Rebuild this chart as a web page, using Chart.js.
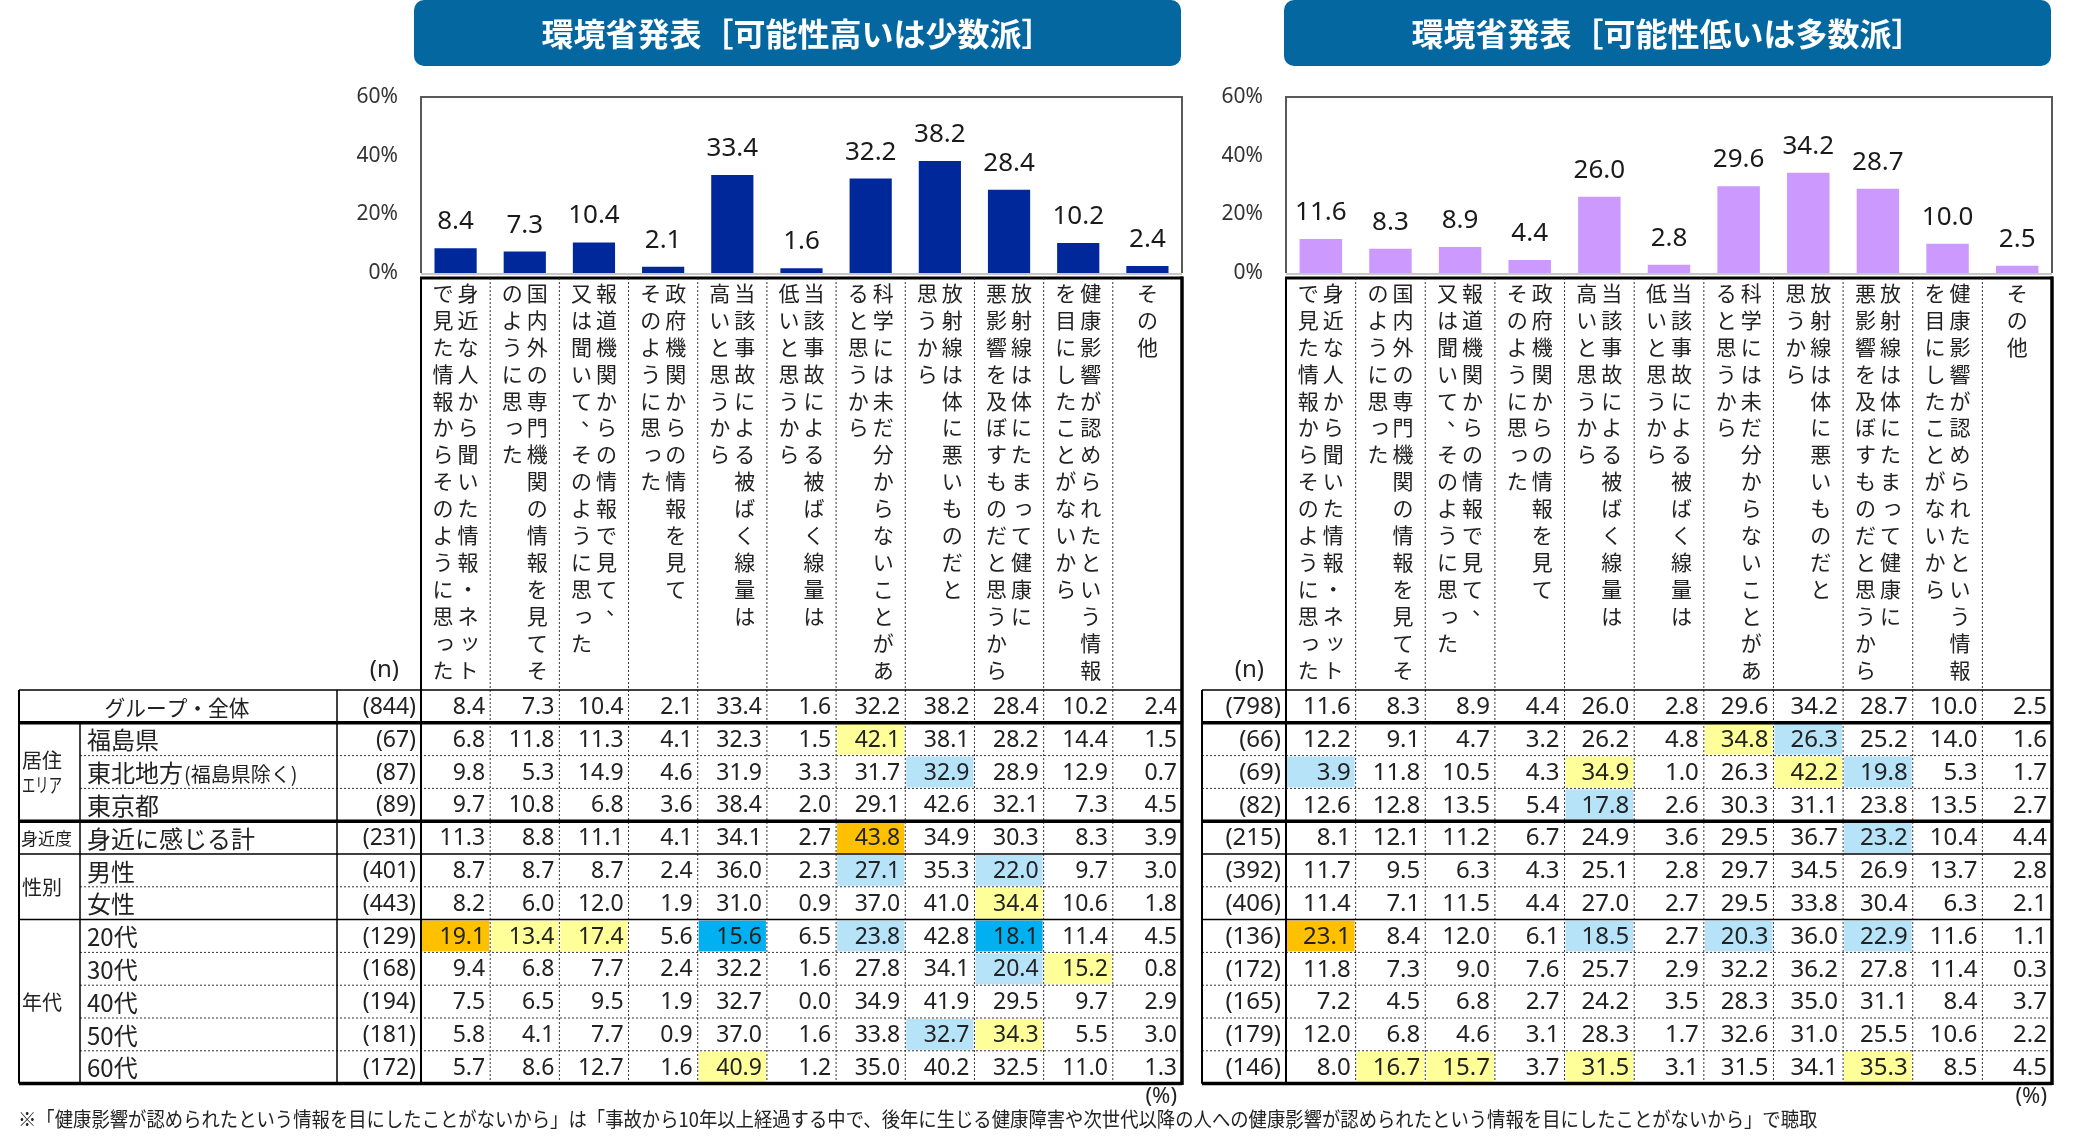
<!DOCTYPE html>
<html lang="ja">
<head>
<meta charset="utf-8">
<script src="https://cdn.jsdelivr.net/npm/chart.js@4.4.1/dist/chart.umd.min.js"></script>
<style>
  html, body { margin: 0; padding: 0; background: #fff; }
  #wrap { position: relative; width: 2080px; height: 1137px; overflow: hidden; }
  #cHigh { position: absolute; left: 0; top: 0; }
  #cLow { position: absolute; left: 1195px; top: 0; }
  #note { position: absolute; left: 18px; top: 1104px; font: 20px "Noto Sans CJK JP", sans-serif;
          color: #222; white-space: nowrap; transform-origin: 0 0; }
</style>
</head>
<body>
<div id="wrap">
  <canvas id="cHigh" width="1195" height="1137"></canvas>
  <canvas id="cLow" width="885" height="1137"></canvas>
  <div id="note">※「健康影響が認められたという情報を目にしたことがないから」は「事故から10年以上経過する中で、後年に生じる健康障害や次世代以降の人への健康影響が認められたという情報を目にしたことがないから」で聴取</div>
</div>
<script>
// 見出し
const titleHigh = '環境省発表［可能性高いは少数派］';
const titleLow = '環境省発表［可能性低いは多数派］';

// 理由（縦書き：右の列から左の列へ）
const reasonCols = [
  ['身近な人から聞いた情報・ネット', 'で見た情報からそのように思った'],
  ['国内外の専門機関の情報を見てそ', 'のように思った'],
  ['報道機関からの情報で見て、', '又は聞いて、そのように思った'],
  ['政府機関からの情報を見て', 'そのように思った'],
  ['当該事故による被ばく線量は', '高いと思うから'],
  ['当該事故による被ばく線量は', '低いと思うから'],
  ['科学には未だ分からないことがあ', 'ると思うから'],
  ['放射線は体に悪いものだと', '思うから'],
  ['放射線は体にたまって健康に', '悪影響を及ぼすものだと思うから'],
  ['健康影響が認められたという情報', 'を目にしたことがないから'],
  ['その他']
];
const categories = reasonCols.map(c => c.join(''));

const yTicks = [0, 20, 40, 60];

// 表の行
const rowLabels = ['グループ・全体', '福島県', '東北地方', '東京都', '身近に感じる計', '男性', '女性',
                   '20代', '30代', '40代', '50代', '60代'];
const rowSuffix = ['', '', '(福島県除く)', '', '', '', '', '', '', '', '', ''];
const groupNames = [
  { lines: ['居住', 'エリア'], from: 1, to: 3 },
  { lines: ['身近度'], from: 4, to: 4 },
  { lines: ['性別'], from: 5, to: 6 },
  { lines: ['年代'], from: 7, to: 11 }
];

const nHigh = [844, 67, 87, 89, 231, 401, 443, 129, 168, 194, 181, 172];
const nLow = [798, 66, 69, 82, 215, 392, 406, 136, 172, 165, 179, 146];

const tableHigh = [
  [8.4, 7.3, 10.4, 2.1, 33.4, 1.6, 32.2, 38.2, 28.4, 10.2, 2.4],
  [6.8, 11.8, 11.3, 4.1, 32.3, 1.5, 42.1, 38.1, 28.2, 14.4, 1.5],
  [9.8, 5.3, 14.9, 4.6, 31.9, 3.3, 31.7, 32.9, 28.9, 12.9, 0.7],
  [9.7, 10.8, 6.8, 3.6, 38.4, 2.0, 29.1, 42.6, 32.1, 7.3, 4.5],
  [11.3, 8.8, 11.1, 4.1, 34.1, 2.7, 43.8, 34.9, 30.3, 8.3, 3.9],
  [8.7, 8.7, 8.7, 2.4, 36.0, 2.3, 27.1, 35.3, 22.0, 9.7, 3.0],
  [8.2, 6.0, 12.0, 1.9, 31.0, 0.9, 37.0, 41.0, 34.4, 10.6, 1.8],
  [19.1, 13.4, 17.4, 5.6, 15.6, 6.5, 23.8, 42.8, 18.1, 11.4, 4.5],
  [9.4, 6.8, 7.7, 2.4, 32.2, 1.6, 27.8, 34.1, 20.4, 15.2, 0.8],
  [7.5, 6.5, 9.5, 1.9, 32.7, 0.0, 34.9, 41.9, 29.5, 9.7, 2.9],
  [5.8, 4.1, 7.7, 0.9, 37.0, 1.6, 33.8, 32.7, 34.3, 5.5, 3.0],
  [5.7, 8.6, 12.7, 1.6, 40.9, 1.2, 35.0, 40.2, 32.5, 11.0, 1.3]
];
const tableLow = [
  [11.6, 8.3, 8.9, 4.4, 26.0, 2.8, 29.6, 34.2, 28.7, 10.0, 2.5],
  [12.2, 9.1, 4.7, 3.2, 26.2, 4.8, 34.8, 26.3, 25.2, 14.0, 1.6],
  [3.9, 11.8, 10.5, 4.3, 34.9, 1.0, 26.3, 42.2, 19.8, 5.3, 1.7],
  [12.6, 12.8, 13.5, 5.4, 17.8, 2.6, 30.3, 31.1, 23.8, 13.5, 2.7],
  [8.1, 12.1, 11.2, 6.7, 24.9, 3.6, 29.5, 36.7, 23.2, 10.4, 4.4],
  [11.7, 9.5, 6.3, 4.3, 25.1, 2.8, 29.7, 34.5, 26.9, 13.7, 2.8],
  [11.4, 7.1, 11.5, 4.4, 27.0, 2.7, 29.5, 33.8, 30.4, 6.3, 2.1],
  [23.1, 8.4, 12.0, 6.1, 18.5, 2.7, 20.3, 36.0, 22.9, 11.6, 1.1],
  [11.8, 7.3, 9.0, 7.6, 25.7, 2.9, 32.2, 36.2, 27.8, 11.4, 0.3],
  [7.2, 4.5, 6.8, 2.7, 24.2, 3.5, 28.3, 35.0, 31.1, 8.4, 3.7],
  [12.0, 6.8, 4.6, 3.1, 28.3, 1.7, 32.6, 31.0, 25.5, 10.6, 2.2],
  [8.0, 16.7, 15.7, 3.7, 31.5, 3.1, 31.5, 34.1, 35.3, 8.5, 4.5]
];

// 全体との差（H:かなり高い h:高い l:低い L:かなり低い）
const marksHigh = [
  '...........',
  '......h....',
  '.......l...',
  '...........',
  '......H....',
  '......l.l..',
  '........h..',
  'Hhh.L.l.L..',
  '........lh.',
  '...........',
  '.......lh..',
  '....h......'
];
const marksLow = [
  '...........',
  '......hl...',
  'l...h..hl..',
  '....l......',
  '........l..',
  '...........',
  '...........',
  'H...l.l.l..',
  '...........',
  '...........',
  '...........',
  '.hh.h...h..'
];

const JP = '"Noto Sans CJK JP", sans-serif';
const NUM = '"Noto Sans", "Liberation Sans", sans-serif';
const markColors = { H: '#FFC000', h: '#FFFF99', l: '#B7E3F8', L: '#00B0F0' };

const HEAD_TOP = 278;
const CHAR_TOP = 293, CHAR_STEP = 26.9;
const TABLE_TOP = 690, ROW_H = 32.8;
// 行の下の罫線: solid / thick / dot
const rowRules = ['solid', 'thick', 'dot', 'dot', 'thick', 'solid', 'dot', 'solid', 'dot', 'dot', 'dot', 'dot', 'thick'];

function rule(ctx, x1, y1, x2, y2, w, dash) {
  ctx.save();
  ctx.beginPath();
  ctx.lineWidth = w;
  ctx.strokeStyle = dash ? '#333' : '#000';
  ctx.setLineDash(dash ? [2, 2] : []);
  ctx.moveTo(x1, y1);
  ctx.lineTo(x2, y2);
  ctx.stroke();
  ctx.restore();
}

function verticalText(ctx, str, cx) {
  [...str].forEach((ch, k) => {
    let dx = 0, dy = 0;
    if ('、。'.includes(ch)) { dx = 10; dy = -10; }
    else if ('っッ'.includes(ch)) { dx = 2; dy = -2; }
    ctx.fillText(ch, cx + dx, CHAR_TOP + k * CHAR_STEP + dy);
  });
}

const sheetPlugin = {
  id: 'sheet',
  afterDraw(chart, args, o) {
    const ctx = chart.ctx, a = chart.chartArea, x = chart.scales.x;
    const step = x.getPixelForValue(1) - x.getPixelForValue(0);
    const colL = i => x.getPixelForValue(i) - step / 2;
    const nLeft = a.left - 84;
    const tableLeft = o.withLabels ? 19 : nLeft;
    const bottom = TABLE_TOP + 12 * ROW_H;
    const rowY = r => TABLE_TOP + r * ROW_H;

    ctx.save();
    // 見出しの帯
    ctx.fillStyle = '#0567A0';
    ctx.beginPath();
    ctx.roundRect(o.header[0], 0, o.header[1] - o.header[0], 66, 10);
    ctx.fill();
    ctx.fillStyle = '#fff';
    ctx.font = 'bold 32px ' + JP;
    ctx.textAlign = 'center';
    ctx.textBaseline = 'middle';
    ctx.fillText(o.title, (o.header[0] + o.header[1]) / 2, 34);

    // グラフ枠
    ctx.strokeStyle = '#595959';
    ctx.lineWidth = 2;
    ctx.beginPath();
    ctx.moveTo(a.left, a.bottom);
    ctx.lineTo(a.left, a.top);
    ctx.lineTo(a.right, a.top);
    ctx.lineTo(a.right, a.bottom);
    ctx.stroke();
    ctx.strokeStyle = '#c8c8c8';
    ctx.beginPath();
    ctx.moveTo(a.left, a.bottom + 1);
    ctx.lineTo(a.right, a.bottom + 1);
    ctx.stroke();

    // 色付きセル
    o.marks.forEach((m, r) => {
      [...m].forEach((c, i) => {
        if (markColors[c]) {
          ctx.fillStyle = markColors[c];
          ctx.fillRect(colL(i) + 1, rowY(r) + 1, step - 2, ROW_H - 2);
        }
      });
    });

    // 罫線
    rule(ctx, a.left - 1, HEAD_TOP, a.right + 1, HEAD_TOP, 3);
    for (let k = 1; k < 11; k++) rule(ctx, colL(k), HEAD_TOP, colL(k), bottom, 1, true);
    rowRules.forEach((kind, b) => {
      const y = rowY(b);
      if (kind === 'dot') rule(ctx, o.withLabels ? 80 : tableLeft, y, a.right, y, 1, true);
      else rule(ctx, tableLeft, y, a.right, y, kind === 'thick' ? 3.5 : 1.5);
    });
    rule(ctx, a.left, HEAD_TOP, a.left, bottom, 2);
    rule(ctx, a.right, HEAD_TOP - 1.5, a.right, bottom + 1.5, 3.5);
    rule(ctx, tableLeft, TABLE_TOP, tableLeft, bottom, 2);
    rule(ctx, nLeft, TABLE_TOP, nLeft, bottom, 1.5);
    if (o.withLabels) rule(ctx, 80, rowY(1), 80, bottom, 1.5);

    // 縦書きの選択肢
    ctx.fillStyle = '#222';
    ctx.font = '21px ' + JP;
    ctx.textAlign = 'center';
    ctx.textBaseline = 'middle';
    reasonCols.forEach((cols, i) => {
      const cx = x.getPixelForValue(i);
      if (cols.length === 1) verticalText(ctx, cols[0], cx);
      else {
        verticalText(ctx, cols[0], cx + 12.5);
        verticalText(ctx, cols[1], cx - 12.5);
      }
    });

    // (n) と (%)
    ctx.font = '24px ' + NUM;
    ctx.textAlign = 'right';
    ctx.fillText('(n)', a.left - 22, 670);
    ctx.font = '22px ' + NUM;
    ctx.fillText('(%)', a.right - 5, 1097);

    // 数値
    o.values.forEach((row, r) => {
      const cy = rowY(r) + ROW_H / 2 + 1;
      ctx.font = o.numSize + 'px ' + NUM;
      ctx.textAlign = 'right';
      ctx.fillStyle = '#222';
      ctx.fillText('(' + o.counts[r] + ')', a.left - 5, cy);
      row.forEach((v, i) => ctx.fillText(v.toFixed(1), colL(i) + step - 5, cy));
    });

    // 行見出し
    if (o.withLabels) {
      ctx.textAlign = 'center';
      ctx.font = '22px ' + JP;
      ctx.fillText(rowLabels[0], 177, rowY(0) + ROW_H / 2 + 1, 145);
      ctx.textAlign = 'left';
      for (let r = 1; r < rowLabels.length; r++) {
        const cy = rowY(r) + ROW_H / 2 + 1;
        ctx.font = '24px ' + JP;
        ctx.fillText(rowLabels[r], 87, cy);
        if (rowSuffix[r]) {
          const w = ctx.measureText(rowLabels[r]).width;
          ctx.font = '20px ' + JP;
          ctx.fillText(rowSuffix[r], 87 + w + 1, cy + 1);
        }
      }
      groupNames.forEach(g => {
        const mid = (rowY(g.from) + rowY(g.to + 1)) / 2;
        if (g.lines.length === 2) {
          ctx.font = '20px ' + JP;
          ctx.fillText(g.lines[0], 22, mid - 12, 40);
          ctx.fillText(g.lines[1], 22, mid + 13, 40);
        } else if (g.lines[0].length > 2) {
          ctx.font = '17px ' + JP;
          ctx.fillText(g.lines[0], 21, mid + 1, 57);
        } else {
          ctx.font = '20px ' + JP;
          ctx.fillText(g.lines[0], 22, mid + 1, 40);
        }
      });
    }
    ctx.restore();
  }
};

const barLabels = {
  id: 'barLabels',
  afterDatasetsDraw(chart) {
    const ctx = chart.ctx;
    const meta = chart.getDatasetMeta(0);
    ctx.save();
    ctx.font = '26px ' + NUM;
    ctx.fillStyle = '#1a1a1a';
    ctx.textAlign = 'center';
    ctx.textBaseline = 'alphabetic';
    meta.data.forEach((bar, i) => {
      ctx.fillText(chart.data.datasets[0].data[i].toFixed(1), bar.x, bar.y - 19);
    });
    ctx.restore();
  }
};

function makeChart(id, values, color, padL, padR, sheet) {
  return new Chart(document.getElementById(id), {
    type: 'bar',
    data: {
      labels: categories,
      datasets: [{
        data: values,
        backgroundColor: color,
        barPercentage: 0.61,
        categoryPercentage: 1
      }]
    },
    options: {
      responsive: false,
      animation: false,
      layout: { padding: { left: padL, right: padR, top: 97, bottom: 1137 - 273 } },
      plugins: { legend: { display: false }, tooltip: { enabled: false }, sheet: sheet },
      scales: {
        x: { display: false },
        y: {
          min: yTicks[0], max: yTicks[yTicks.length - 1],
          afterFit: s => { s.width = 80; },
          afterBuildTicks: s => { s.ticks = yTicks.map(v => ({ value: v })); },
          grid: { display: false, drawTicks: false },
          border: { display: false },
          ticks: { padding: 23, color: '#333', font: { family: NUM, size: 21 }, callback: v => v + '%' }
        }
      }
    },
    plugins: [sheetPlugin, barLabels]
  });
}

makeChart('cHigh', tableHigh[0], '#00289A', 341, 13, {
  title: titleHigh, header: [414, 1181], values: tableHigh, counts: nHigh, marks: marksHigh,
  withLabels: true, numSize: 23
});
makeChart('cLow', tableLow[0], '#CC99FF', 11, 28, {
  title: titleLow, header: [89, 856], values: tableLow, counts: nLow, marks: marksLow,
  withLabels: false, numSize: 24
});

// 注記の幅を合わせる
const note = document.getElementById('note');
note.style.transform = 'scaleX(' + (1799 / note.offsetWidth) + ')';
</script>
</body>
</html>
